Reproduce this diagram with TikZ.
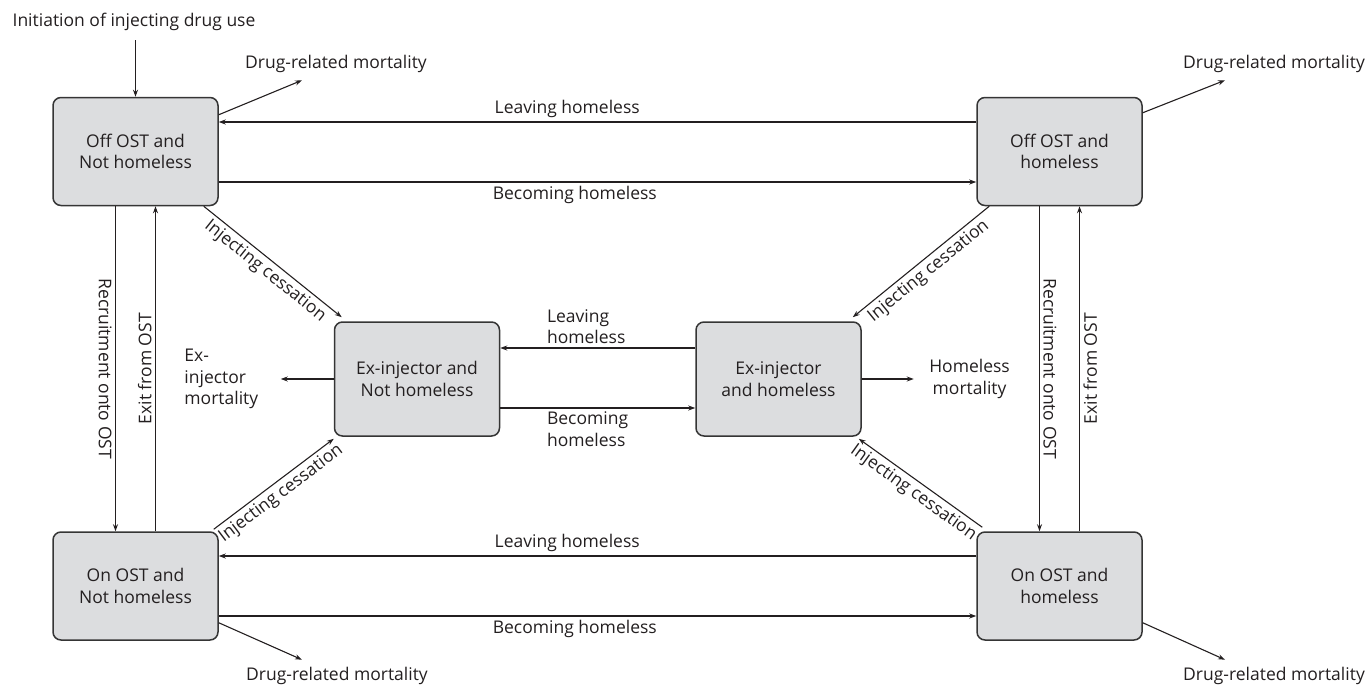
\documentclass[tikz,border=0pt]{standalone}
\usepackage{fontspec}
\setmainfont{Open Sans}
\usepackage{tikz}
\usepackage{xcolor}
\usetikzlibrary{arrows.meta,positioning}
\definecolor{boxfill}{HTML}{DCDDDF}
\definecolor{boxline}{HTML}{353535}
\definecolor{ink}{HTML}{231F20}
\tikzset{
    state-box/.style = {draw=boxline, fill=boxfill, line width=1.5pt, rectangle, rounded corners=8pt, minimum width=165pt, minimum height=108pt, align=center, text=ink},
    flow-arrow/.style = {draw=ink, line width=1.1pt, -{Stealth[length=7pt,width=5pt]}},
    flow-label/.style = {text=ink},
}

\begin{document}
\begin{tikzpicture}[x=1pt, y=-1pt, font=\fontsize{17.5}{21.5}\selectfont]
\useasboundingbox (0,0) rectangle (1367,685);
% states
\node [state-box] (offnh) at (135.5,151.5) {Off OST and\\Not homeless};
\node [state-box] (offh) at (1059.5,151.5) {Off OST and\\homeless};
\node [state-box] (onnh) at (135.5,586) {On OST and\\Not homeless};
\node [state-box] (onh) at (1059.5,586) {On OST and\\homeless};
\node [state-box, minimum height=114pt] (exnh) at (417,379) {Ex-injector and\\Not homeless};
\node [state-box, minimum height=114pt] (exh) at (778.5,379) {Ex-injector\\and homeless};

% entry and exits
\node [flow-label] (init) at (134,22) {Initiation of injecting drug use};
\draw [flow-arrow, shorten <=6pt] (init.south -| offnh.north) -- (offnh.north);
\node [flow-label] (drm-offnh) at (336,64) {Drug-related mortality};
\node [flow-label] (drm-offh) at (1274,64) {Drug-related mortality};
\node [flow-label] (drm-onnh) at (337,676) {Drug-related mortality};
\node [flow-label] (drm-onh) at (1274,676) {Drug-related mortality};
\draw [flow-arrow] ([yshift=-18pt]offnh.north east) -- ([xshift=-34pt,yshift=-4pt]drm-offnh.south);
\draw [flow-arrow] ([yshift=-16pt]offh.north east) -- ([xshift=-49pt,yshift=-4pt]drm-offh.south);
\draw [flow-arrow] ([yshift=18pt]onnh.south east) -- ([xshift=-35pt,yshift=4pt]drm-onnh.north);
\draw [flow-arrow] ([yshift=18pt]onh.south east) -- ([xshift=-49pt,yshift=4pt]drm-onh.north);

\coordinate [left=53pt of exnh.west] (exmort-tip);
\node [flow-label, align=left, left=19pt of exmort-tip] (exmort) {Ex-\\injector\\mortality};
\draw [flow-arrow] (exnh.west) -- (exmort-tip);
\coordinate [right=52pt of exh.east] (hmort-tip);
\node [flow-label, align=center, right=12pt of hmort-tip] (hmort) {Homeless\\mortality};
\draw [flow-arrow] (exh.east) -- (hmort-tip);

% homelessness
\draw [flow-arrow] ([yshift=29.5pt]offh.west) -- node [flow-label, above, pos=0.54] {Leaving homeless} ([yshift=29.5pt]offnh.east);
\draw [flow-arrow] ([yshift=-30.5pt]offnh.east) -- node [flow-label, below, pos=0.47] {Becoming homeless} ([yshift=-30.5pt]offh.west);
\draw [flow-arrow] ([yshift=30pt]onh.west) -- node [flow-label, above, pos=0.54] {Leaving homeless} ([yshift=30pt]onnh.east);
\draw [flow-arrow] ([yshift=-30pt]onnh.east) -- node [flow-label, below, pos=0.47] {Becoming homeless} ([yshift=-30pt]onh.west);
\draw [flow-arrow] ([yshift=31pt]exh.west) -- node [flow-label, above right, align=left, pos=0.78] {Leaving\\homeless} ([yshift=31pt]exnh.east);
\draw [flow-arrow] ([yshift=-29pt]exnh.east) -- node [flow-label, below right, align=left, pos=0.22] {Becoming\\homeless} ([yshift=-29pt]exh.west);

% OST
\draw [flow-arrow] ([xshift=-20pt]offnh.south) -- node [flow-label, rotate=-90, below] {Recruitment onto OST} ([xshift=-20pt]onnh.north);
\draw [flow-arrow] ([xshift=20pt]onnh.north) -- node [flow-label, rotate=90, above] {Exit from OST} ([xshift=20pt]offnh.south);
\draw [flow-arrow] ([xshift=-20pt]offh.south) -- node [flow-label, rotate=-90, above] {Recruitment onto OST} ([xshift=-20pt]onh.north);
\draw [flow-arrow] ([xshift=20pt]onh.north) -- node [flow-label, rotate=90, below] {Exit from OST} ([xshift=20pt]offh.south);

% cessation
\draw [flow-arrow] ([xshift=-15pt]offnh.south east) -- node [flow-label, sloped, below] {Injecting cessation} ([xshift=8pt,yshift=4pt]exnh.north west);
\draw [flow-arrow] ([xshift=-5pt,yshift=2pt]onnh.north east) -- node [flow-label, sloped, below] {Injecting cessation} ([yshift=-2pt]exnh.south west);
\draw [flow-arrow] ([xshift=13pt]offh.south west) -- node [flow-label, sloped, below] {Injecting cessation} ([xshift=-9pt,yshift=4pt]exh.north east);
\draw [flow-arrow] ([xshift=6pt,yshift=4pt]onh.north west) -- node [flow-label, sloped, below] {Injecting cessation} ([xshift=-3pt,yshift=-2pt]exh.south east);
\end{tikzpicture}
\end{document}
